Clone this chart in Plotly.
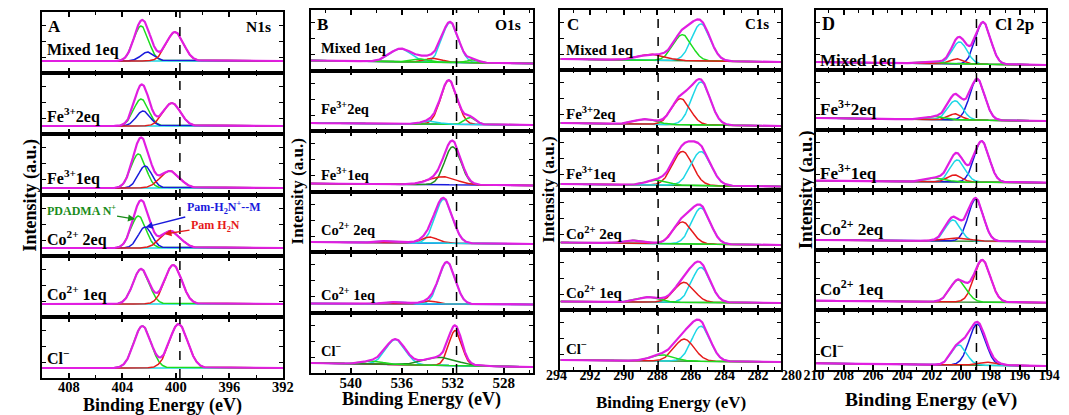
import numpy as np
import plotly.graph_objects as go

# ---------------- data ----------------
row_labels = ["Mixed 1eq", "Fe<sup>3+</sup>2eq", "Fe<sup>3+</sup>1eq",
              "Co<sup>2+</sup> 2eq", "Co<sup>2+</sup> 1eq", "Cl<sup>\u2212</sup>"]
panel_letters = ["A", "B", "C", "D"]
core_levels = ["N1s", "O1s", "C1s", "Cl 2p"]
reference_energy = [399.7, 531.7, 287.95, 198.95]
tick_values = [[408, 404, 400, 396, 392],
               [540, 536, 532, 528],
               [294, 292, 290, 288, 286, 284, 282, 280],
               [210, 208, 206, 204, 202, 200, 198, 196, 194]]

# fitted components per spectrum: (component, centre eV, height a.u., FWHM eV)
N1s_peaks = [
    [("PDADMA N+", 402.6, 35, 1.3), ("Pam-H2N+-M", 402.1, 9, 1.2), ("Pam H2N", 400.07, 29, 1.5)],
    [("PDADMA N+", 402.6, 27, 1.3), ("Pam-H2N+-M", 402.45, 15, 1.2), ("Pam H2N", 400.3, 23, 1.5)],
    [("PDADMA N+", 402.8, 34, 1.3), ("Pam-H2N+-M", 402.3, 22, 1.2), ("Pam H2N", 400.45, 17, 1.7)],
    [("PDADMA N+", 402.8, 32, 1.3), ("Pam-H2N+-M", 402.3, 21, 1.2), ("Pam H2N", 400.4, 17, 1.7)],
    [("PDADMA N+", 402.6, 35, 1.4), ("Pam H2N", 400.2, 39, 1.5)],
    [("PDADMA N+", 402.5, 42, 1.5), ("Pam H2N", 399.8, 44, 1.6)],
]
N1s_background = [(12, 12), (8, 8), (7, 7), (8, 8), (13, 13), (10, 10)]

O1s_peaks = [
    [("O-a", 532.2, 40, 1.5), ("O-a", 536.1, 13, 2.0), ("O-b", 533.5, 4, 1.5),
     ("O-c", 534.5, 3, 1.5), ("O-c", 530.4, 3, 1.0)],
    [("O-b", 532.3, 44, 1.5), ("O-c", 530.6, 7, 1.0), ("O-a", 533.8, 3, 1.5)],
    [("O-d", 532.0, 38, 1.5), ("O-b", 532.8, 8, 2.5)],
    [("O-a", 532.7, 44, 1.6), ("O-b", 533.8, 6, 1.5), ("O-a", 536.8, 2, 2.0)],
    [("O-a", 532.45, 42, 1.5), ("O-b", 533.8, 3, 1.4), ("O-a", 536.3, 2, 2.0)],
    [("O-a", 536.5, 25, 1.8), ("O-b", 531.8, 35, 1.2), ("O-d", 533.0, 8, 3.0),
     ("O-c", 538.3, 3, 2.0)],
]
O1s_background = [(10, 7), (8, 6), (8, 6), (10, 8), (9, 8), (10, 6)]

C1s_peaks = [
    [("C-a", 285.4, 37, 1.3), ("C-c", 286.5, 26, 1.3), ("C-b", 288.3, 6, 1.8)],
    [("C-a", 285.4, 43, 1.3), ("C-b", 286.6, 26, 1.3), ("C-c", 288.7, 5, 1.5)],
    [("C-b", 286.5, 34, 1.4), ("C-a", 285.4, 34, 1.4), ("C-c", 288.0, 5, 1.5)],
    [("C-a", 285.4, 36, 1.3), ("C-b", 286.5, 22, 1.3), ("C-c", 289.3, 3, 1.5)],
    [("C-a", 285.4, 35, 1.3), ("C-b", 286.4, 20, 1.4), ("C-c", 288.5, 5, 1.5)],
    [("C-a", 285.4, 35, 1.3), ("C-b", 286.4, 22, 1.4), ("C-c", 287.7, 6, 1.6)],
]
C1s_background = [(11, 8), (7, 4), (6, 3.5), (7.5, 5), (8.5, 7), (10, 8)]

Cl2p_peaks = [
    [("Cl-a", 198.5, 42, 1.2), ("Cl-b", 200.1, 22, 1.2), ("Cl-c", 200.25, 5, 1.0), ("Cl-d", 201.9, 2, 1.5)],
    [("Cl-a", 198.9, 41, 1.2), ("Cl-b", 200.4, 19, 1.2), ("Cl-c", 200.4, 6, 1.0), ("Cl-d", 201.7, 3, 1.5)],
    [("Cl-a", 198.6, 41, 1.2), ("Cl-b", 200.25, 22, 1.2), ("Cl-c", 200.45, 7, 1.1), ("Cl-d", 201.7, 4, 1.5)],
    [("Cl-a", 199.0, 42, 1.2), ("Cl-b", 200.55, 21, 1.2), ("Cl-c", 200.25, 3, 2.0)],
    [("Cl-c", 198.55, 42, 1.3), ("Cl-d", 200.2, 22, 1.3)],
    [("Cl-a", 198.9, 41, 1.3), ("Cl-b", 200.15, 20, 1.2), ("Cl-c", 198.1, 3, 1.5)],
]
Cl2p_background = [(8, 5), (12, 9), (9.3, 7.3), (10, 8.3), (9.3, 7.3), (6.7, 4)]

# labelled components in panel A, Co2+ 2eq spectrum: (text, component, energy pointed at)
N1s_labels = [("PDADMA N<sup>+</sup>", "PDADMA N+", 403.05),
              ("Pam-H<sub>2</sub>N<sup>+</sup>--M", "Pam-H2N+-M", 402.25),
              ("Pam H<sub>2</sub>N", "Pam H2N", 400.85)]

all_peaks = [N1s_peaks, O1s_peaks, C1s_peaks, Cl2p_peaks]
all_backgrounds = [N1s_background, O1s_background, C1s_background, Cl2p_background]

# ---------------- style / layout ----------------
W, H = 1069, 415
FONT = "Liberation Serif, Times New Roman, serif"
PANEL_X = [(31.5, 278), (306, 533), (561, 786), (822, 1057)]
PANEL_Y = [(12, 378), (10, 373), (10, 370), (10, 370)]
# tick-label scale of each panel: (pixel of first label, pixel of last label)
LABEL_SPAN = [(59.0, 277.7), (347.0, 503.0), (557.0, 797.0), (820.0, 1060.0)]
X_MINOR = [2, 2, 1, 1]
YTITLE_X = [19, 293, 549, 812]
XTITLE_Y = [405, 399, 402, 400]
LABEL_LEFT = [35, 314, 565, 824]
LABEL_OFFSET = [[23, 19, 18, 18, 24, 21],
                [22, 23, 18, 23, 19, 23],
                [20, 17, 17, 17, 18, 22],
                [9, 22, 18, 22, 22, 20]]
TICK_SIZE = [14.5, 15, 14, 14]
ROWLABEL_SIZE = [16, 14.5, 15, 17]
LETTER_SIZE = [17, 17, 17, 18]
CORE_SIZE = [15.5, 15.5, 15, 17]
XTITLE_SIZE = [18, 18, 17, 19.5]
YTITLE_SIZE = [18, 17, 17, 19]
ENVELOPE_COLOR = "#E11EE1"
BG_COLOR = ["#1ED7E6", "#1A1ADC", "#2E8B2E", "#2E8B2E"]
COMP_COLOR = {
    "PDADMA N+": "#1EDC1E", "Pam-H2N+-M": "#1A1ADC", "Pam H2N": "#E61A1A",
    "O-a": "#1ED7E6", "O-b": "#E61A1A", "O-c": "#1EDC1E", "O-d": "#1F8F1F",
    "C-a": "#1ED7E6", "C-b": "#E61A1A", "C-c": "#1EDC1E",
    "Cl-a": "#1A1ADC", "Cl-b": "#1ED7E6", "Cl-c": "#E61A1A", "Cl-d": "#1EDC1E",
}
LABEL_TEXT_COLOR = {"PDADMA N+": "#1A8C1A", "Pam-H2N+-M": "#1A1ADC", "Pam H2N": "#E61A1A"}
LABEL_OFFSETS_PX = [(-54, -9), (78, -20), (51, -8)]
LW = 1.6


def bold(size):
    return dict(family=FONT, size=size, color="black", weight="bold")


def gauss(x, c, h, w):
    return h * np.exp(-4 * np.log(2) * (x - c) ** 2 / w ** 2)


def px(x):
    return x / W


def py(y):
    return 1 - y / H


fig = go.Figure()
annotations = []
shapes = []
k = 0
n_axes = 24
for p in range(4):
    x0, x1 = PANEL_X[p]
    ytop, ybot = PANEL_Y[p]
    rh = (ybot - ytop) / 6
    # energy scale from the tick-label positions
    e_first, e_last = tick_values[p][0], tick_values[p][-1]
    l0, l1 = LABEL_SPAN[p]
    pix_per_ev = (l1 - l0) / (e_first - e_last)
    hi = e_first + (l0 - x0) / pix_per_ev
    lo = e_first - (x1 - l0) / pix_per_ev
    labels_outside = (l0 < x0 - 0.5) or (l1 > x1 + 0.5)
    xs = np.linspace(lo, hi, 900)
    for r in range(6):
        k += 1
        sfx = "" if k == 1 else str(k)
        rt = ytop + r * rh
        rb = rt + rh
        b_left, b_right = all_backgrounds[p][r]
        bg = b_left + (b_right - b_left) * (hi - xs) / (hi - lo)
        fig.add_trace(go.Scatter(x=xs, y=bg, mode="lines",
                                 line=dict(color=BG_COLOR[p], width=1.6),
                                 xaxis="x" + sfx, yaxis="y" + sfx,
                                 hoverinfo="skip", showlegend=False))
        total = bg.copy()
        for name, c, h, w in all_peaks[p][r]:
            g = gauss(xs, c, h, w)
            total = total + g
            fig.add_trace(go.Scatter(x=xs, y=bg + g, mode="lines",
                                     line=dict(color=COMP_COLOR[name], width=1.5),
                                     xaxis="x" + sfx, yaxis="y" + sfx,
                                     hoverinfo="skip", showlegend=False))
        fig.add_trace(go.Scatter(x=xs, y=total, mode="lines",
                                 line=dict(color=ENVELOPE_COLOR, width=2.2),
                                 xaxis="x" + sfx, yaxis="y" + sfx,
                                 hoverinfo="skip", showlegend=False))

        bottom = (r == 5)
        fig.update_layout(**{
            "xaxis" + sfx: dict(
                domain=[px(x0), px(x1)], anchor="y" + sfx, range=[hi, lo],
                showline=True, mirror="ticks", linecolor="black", linewidth=LW,
                ticks="inside", ticklen=5, tickwidth=1.5, tickcolor="black",
                tickvals=tick_values[p], showticklabels=bottom and not labels_outside,
                ticklabelstandoff=-5,
                minor=dict(dtick=X_MINOR[p], ticks="inside", ticklen=3,
                           tickwidth=1.2, tickcolor="black", showgrid=False),
                showgrid=False, zeroline=False, tickfont=bold(TICK_SIZE[p]),
            ),
            "yaxis" + sfx: dict(
                domain=[py(rb), py(rt)], anchor="x" + sfx, range=[0, rh],
                showline=True, mirror="ticks", linecolor="black", linewidth=LW,
                ticks="inside", ticklen=4, tickwidth=1.3, tickcolor="black",
                tick0=0, dtick=16, showticklabels=False,
                showgrid=False, zeroline=False,
            ),
        })
        annotations.append(dict(
            x=px(LABEL_LEFT[p]), y=py(rb - LABEL_OFFSET[p][r]), xref="paper", yref="paper",
            text=row_labels[r], showarrow=False, xanchor="left", yanchor="middle",
            font=bold(ROWLABEL_SIZE[p])))

        if p == 0 and r == 3:
            peak_map = {n: (c, h, w) for n, c, h, w in all_peaks[p][r]}
            for (txt, comp, e), (oxp, oyp) in zip(N1s_labels, LABEL_OFFSETS_PX):
                c, h, w = peak_map[comp]
                ytar = b_left + (b_right - b_left) * (hi - e) / (hi - lo) + gauss(e, c, h, w)
                col = LABEL_TEXT_COLOR[comp]
                annotations.append(dict(
                    x=e, y=ytar, xref="x" + sfx, yref="y" + sfx, text=txt,
                    showarrow=True, ax=oxp, ay=oyp, arrowhead=2, arrowsize=1,
                    arrowwidth=1.4, arrowcolor=col,
                    font=dict(family=FONT, size=12, color=col, weight="bold")))

    bsfx = str(k)
    if labels_outside:
        # tick labels of this panel sit slightly wider than its frame
        n_axes += 1
        lsfx = str(n_axes)
        fig.add_trace(go.Scatter(x=[], y=[], xaxis="x" + lsfx, yaxis="y" + bsfx,
                                 hoverinfo="skip", showlegend=False))
        fig.update_layout(**{
            "xaxis" + lsfx: dict(
                domain=[px(l0), px(l1)], anchor="y" + bsfx,
                range=[e_first, e_last], showline=False, ticks="",
                tickvals=tick_values[p], showticklabels=True, ticklabelstandoff=-5,
                showgrid=False, zeroline=False, tickfont=bold(TICK_SIZE[p]),
            )})
    shapes.append(dict(type="line", xref="x" + bsfx, yref="paper",
                       x0=reference_energy[p], x1=reference_energy[p],
                       y0=py(ybot), y1=py(ytop),
                       line=dict(color="black", width=1.5, dash="dash")))
    annotations.append(dict(x=px(x0 + 4.5), y=py(ytop + 14), xref="paper", yref="paper",
                            text=panel_letters[p], showarrow=False, xanchor="left",
                            yanchor="middle", font=bold(LETTER_SIZE[p])))
    annotations.append(dict(x=px(x1 - 10), y=py(ytop + 14), xref="paper", yref="paper",
                            text=core_levels[p], showarrow=False, xanchor="right",
                            yanchor="middle", font=bold(CORE_SIZE[p])))
    annotations.append(dict(x=px(YTITLE_X[p]), y=py((ytop + ybot) / 2), xref="paper",
                            yref="paper", text="Intensity (a.u.)", showarrow=False,
                            textangle=-90, xanchor="center", yanchor="middle",
                            font=bold(YTITLE_SIZE[p])))
    annotations.append(dict(x=px((x0 + x1) / 2), y=py(XTITLE_Y[p]), xref="paper",
                            yref="paper", text="Binding Energy (eV)", showarrow=False,
                            xanchor="center", yanchor="middle", font=bold(XTITLE_SIZE[p])))

fig.update_layout(width=W, height=H, margin=dict(l=0, r=0, t=0, b=0),
                  paper_bgcolor="white", plot_bgcolor="rgba(0,0,0,0)",
                  annotations=annotations, shapes=shapes, showlegend=False)
fig.write_html("out.html", config={"displayModeBar": False},
               post_script="document.body.style.margin='0px';"
                           "document.body.style.overflow='hidden';")
